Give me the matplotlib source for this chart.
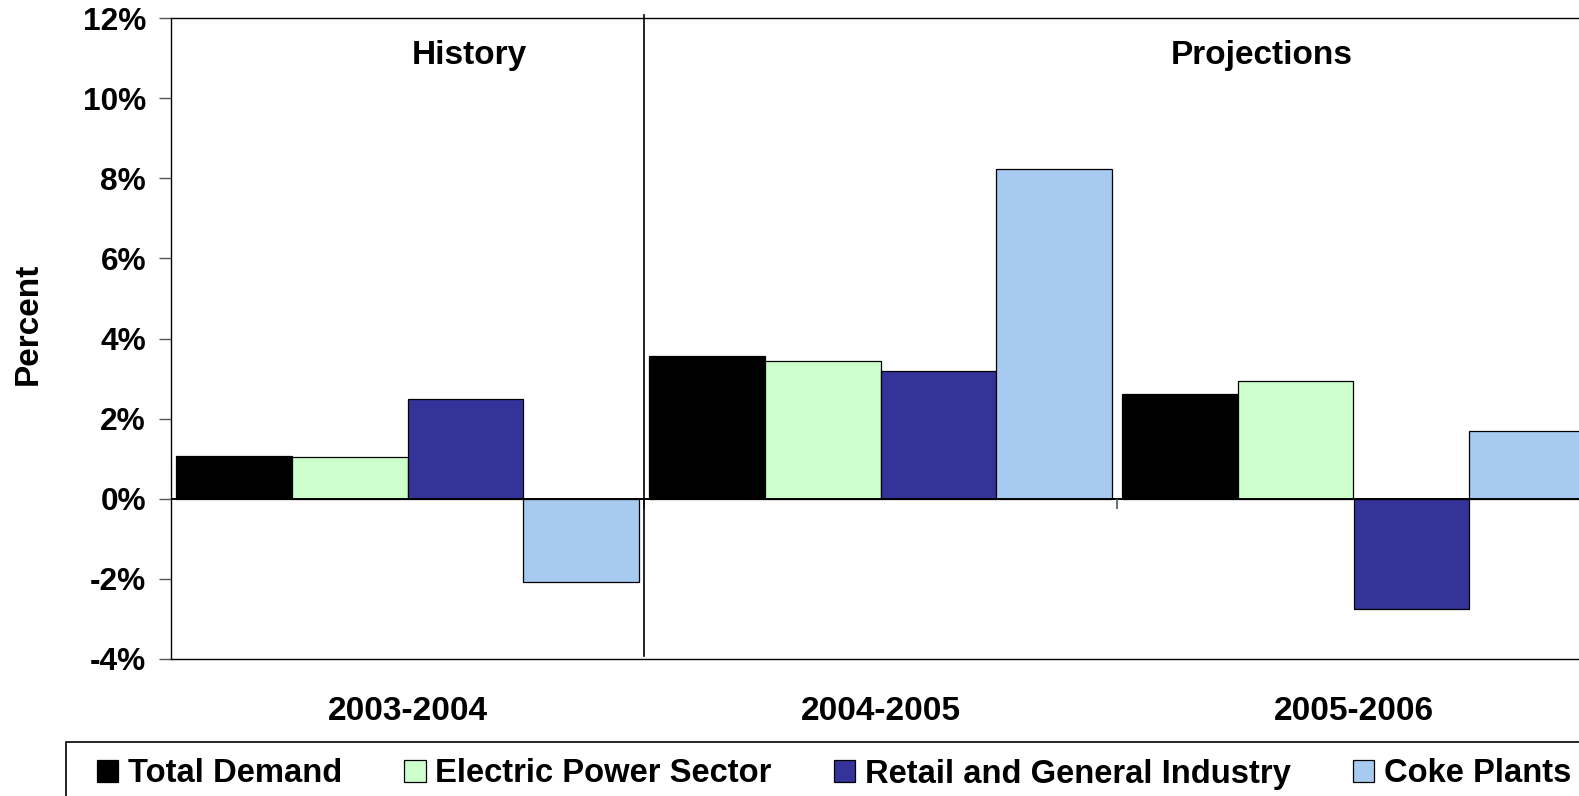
import matplotlib
matplotlib.use("Agg")
import matplotlib.pyplot as plt
import numpy as np
from matplotlib.patches import Rectangle

# growth rates by period, percent
periods = ["2003-2004", "2004-2005", "2005-2006"]
series_names = ["Total Demand", "Electric Power Sector",
                "Retail and General Industry", "Coke Plants"]
total_demand = [1.07, 3.56, 2.62]
electric_power = [1.05, 3.43, 2.95]
retail_general = [2.48, 3.18, -2.75]
coke_plants = [-2.07, 8.22, 1.70]
colors = ["#000000", "#CCFFCC", "#333399", "#A6CAF0"]
yticks = [-4, -2, 0, 2, 4, 6, 8, 10, 12]

plt.rcParams["font.family"] = ["Liberation Sans", "DejaVu Sans"]
plt.rcParams["font.weight"] = "bold"
FS_TICK = 22.8
FS = 24
FS_LEG = 23.6

fig = plt.figure(figsize=(15.79, 7.96), dpi=100)
ax = fig.add_axes([171 / 1579, 1 - 659 / 796, (1590 - 171) / 1579, (659 - 18) / 796])

x = np.arange(len(periods))
width = 0.245
all_series = [total_demand, electric_power, retail_general, coke_plants]
bars = []
for i, (vals, name, c) in enumerate(zip(all_series, series_names, colors)):
    b = ax.bar(x + (i - 1.5) * width, vals, width, color=c, edgecolor="black",
               linewidth=0.9, label=name, zorder=2)
    bars.append(b)

ax.set_xlim(-0.5, len(periods) - 0.5)
ax.set_ylim(yticks[0], yticks[-1])
ax.set_yticks(yticks)
ax.set_yticklabels([f"{v}%" for v in yticks], fontsize=FS_TICK, fontweight="bold")
ax.tick_params(axis="y", length=9, width=1, pad=9, color="#555555")

ax.set_xticks(x)
ax.set_xticklabels(periods, fontsize=FS, fontweight="bold")
ax.tick_params(axis="x", length=0, pad=27)

for s in ax.spines.values():
    s.set_linewidth(1.0)

# zero line with category boundary ticks
ax.axhline(0, color="black", linewidth=1.4, zorder=3)
bounds = x[:-1] + 0.5
ax.vlines(bounds, -0.25, 0, color="#555555", linewidth=1.2, zorder=3)

# separator between history and projections
ax.axvline(bounds[0], ymin=0.004, ymax=1.005, color="black", linewidth=1.2,
           clip_on=False, zorder=3)

ax.text(0.13, 11.07, "History", ha="center", va="center", fontsize=FS,
        fontweight="bold")
ax.text(1.805, 11.07, "Projections", ha="center", va="center", fontsize=FS,
        fontweight="bold")

fig.text(0.018, 1 - 324 / 796, "Percent", rotation=90, ha="center", va="center",
         fontsize=FS, fontweight="bold")

# legend box along the bottom
fig.patches.append(Rectangle((66 / 1579, -0.05), 1.0, 1 - 742 / 796 + 0.05,
                             transform=fig.transFigure, fill=False,
                             edgecolor="black", linewidth=1.2))
fig.legend(handles=bars, labels=series_names, loc="center left",
           bbox_to_anchor=(97 / 1579, 1 - 774 / 796), ncol=4, frameon=False,
           handlelength=0.65, handleheight=0.65, handletextpad=0.3,
           columnspacing=1.89, borderpad=0, borderaxespad=0,
           prop={"weight": "bold", "size": FS_LEG})

fig.savefig("out.png", dpi=100)
